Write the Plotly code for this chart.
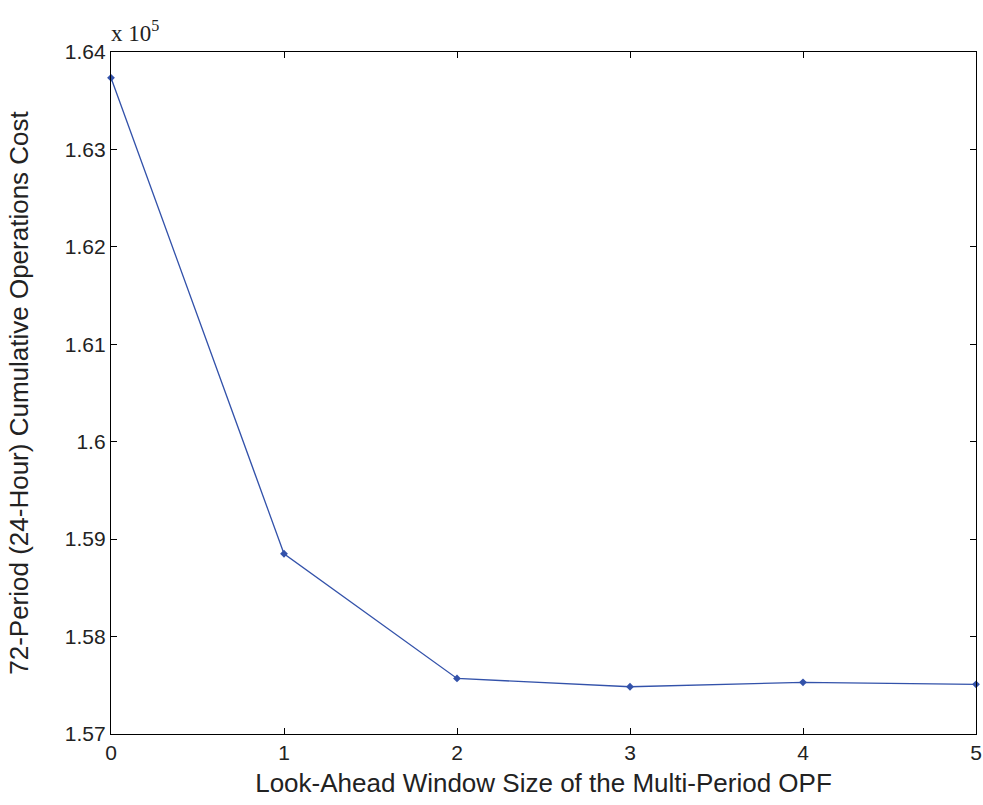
import plotly.graph_objects as go

# Look-ahead window size vs. 72-period cumulative operations cost
window_size = [0, 1, 2, 3, 4, 5]
cumulative_cost = [163735, 158850, 157570, 157485, 157530, 157510]

y_tick_vals = [157000, 158000, 159000, 160000, 161000, 162000, 163000, 164000]
y_tick_text = ["1.57", "1.58", "1.59", "1.6", "1.61", "1.62", "1.63", "1.64"]
x_tick_vals = [0, 1, 2, 3, 4, 5]

line_color = "#3352aa"
tick_font = dict(family="Liberation Sans, Arial, sans-serif", size=21, color="#222222")
title_font = dict(family="Liberation Sans, Arial, sans-serif", size=26, color="#222222")

fig = go.Figure()
fig.add_trace(go.Scatter(
    x=window_size,
    y=cumulative_cost,
    mode="lines+markers",
    line=dict(color=line_color, width=1.3),
    marker=dict(symbol="diamond", size=6, color=line_color),
    cliponaxis=False,
    showlegend=False,
))

axis_common = dict(
    showline=True, linecolor="black", linewidth=1.3, mirror="ticks",
    ticks="inside", ticklen=6, tickcolor="black", tickwidth=1,
    showgrid=False, zeroline=False, tickfont=tick_font,
)

fig.update_layout(
    width=983, height=805,
    margin=dict(l=111, r=7, t=52, b=71),
    paper_bgcolor="white", plot_bgcolor="white",
    xaxis=dict(
        range=[0, 5], tickvals=x_tick_vals, ticktext=[str(v) for v in x_tick_vals],
        title=dict(text="Look-Ahead Window Size of the Multi-Period OPF", font=title_font, standoff=10),
        automargin=False,
        **axis_common,
    ),
    yaxis=dict(
        range=[157000, 164000], tickvals=y_tick_vals, ticktext=y_tick_text,
        title=dict(text="72-Period (24-Hour) Cumulative Operations Cost", font=title_font, standoff=28),
        automargin=False,
        **axis_common,
    ),
    annotations=[dict(
        text="x 10<sup>5</sup>", xref="paper", yref="paper", x=0, y=1,
        xanchor="left", yanchor="bottom", showarrow=False, yshift=4, xshift=-2,
        font=dict(family="Liberation Serif, Times New Roman, serif", size=23, color="#222222"),
    )],
)

fig.write_html("out.html")
